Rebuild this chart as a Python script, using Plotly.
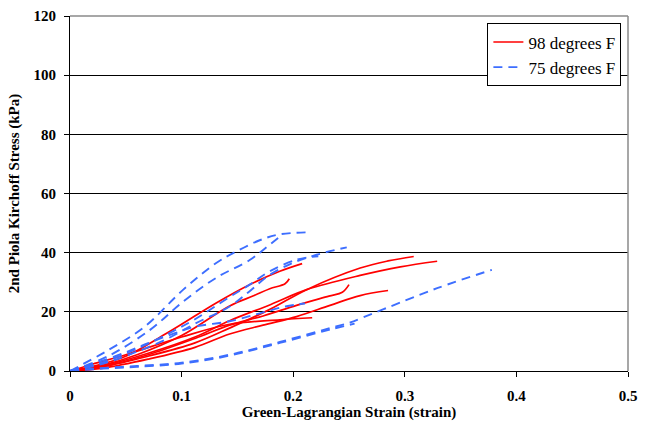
import plotly.graph_objects as go

# ---- data: 98 degrees F (solid red) ----
r_a_x = [0, 0.03, 0.07, 0.112, 0.143, 0.18, 0.212, 0.26, 0.285, 0.308]
r_a_y = [0, 1.5, 5, 9.5, 14.5, 21, 27.5, 34.8, 37.2, 38.7]
r_b_x = [0, 0.03, 0.07, 0.112, 0.143, 0.18, 0.212, 0.26, 0.296, 0.329]
r_b_y = [0, 1.8, 6, 11.5, 17, 22.5, 27.5, 32.3, 35.2, 37.1]
r_c_x = [0, 0.03, 0.07, 0.112, 0.143, 0.173, 0.203, 0.232, 0.244, 0.25]
r_c_y = [0, 1.5, 5.5, 11, 15.5, 18.6, 22.2, 25.3, 26.6, 29.2]
r_d_x = [0, 0.03, 0.07, 0.112, 0.143, 0.173, 0.203, 0.233, 0.26, 0.285]
r_d_y = [0, 1, 4, 8, 12.5, 15.5, 18.4, 22.2, 25.5, 27.2]
r_e_x = [0, 0.02, 0.05, 0.1, 0.143, 0.188, 0.217]
r_e_y = [0, 2.3, 5.5, 11.5, 15.8, 17.3, 18]
r_f_x = [0, 0.02, 0.05, 0.09, 0.131, 0.16, 0.188, 0.208]
r_f_y = [0, 1.5, 5, 13.5, 23, 29, 33.7, 36.3]
r_g_x = [0, 0.03, 0.06, 0.1, 0.143, 0.165, 0.179, 0.1927, 0.1965]
r_g_y = [0, 2, 5.5, 12, 22, 25.5, 27.8, 29.5, 31.2]

# ---- data: 75 degrees F (dashed blue) ----
b_1_x = [0, 0.034, 0.067, 0.1015, 0.131, 0.149, 0.17, 0.188, 0.2166]
b_1_y = [0, 7, 15, 27.5, 36.5, 40.4, 44.2, 46.2, 46.9]
b_2_x = [0, 0.03, 0.052, 0.085, 0.112, 0.143, 0.161, 0.179, 0.2, 0.221, 0.248]
b_2_y = [0, 2.5, 5.4, 10.5, 16, 21.8, 27, 32.5, 36.6, 39.3, 41.8]
b_3_x = [0, 0.021, 0.06, 0.1, 0.143, 0.188, 0.233, 0.25, 0.281, 0.329, 0.378]
b_3_y = [0, 0.8, 1.7, 2.8, 5.5, 9.8, 14.5, 16.3, 20.9, 28, 34.2]
b_4_x = [0, 0.04, 0.07, 0.094, 0.112, 0.143, 0.17, 0.193, 0.2106]
b_4_y = [0, 4.9, 9.4, 12.8, 15, 16.8, 19.5, 21.8, 22.8]
b_5_x = [0, 0.03, 0.06, 0.1, 0.143, 0.188, 0.233, 0.255]
b_5_y = [0, 0.8, 1.4, 2.5, 5.2, 9.5, 14, 16]
b_6_x = [0, 0.034, 0.0717, 0.1015, 0.131, 0.161, 0.175, 0.19]
b_6_y = [0, 5, 13.9, 23.5, 31.5, 37.5, 41.5, 46]
b_7_x = [0, 0.03, 0.06, 0.09, 0.112, 0.143, 0.161, 0.179, 0.203, 0.2225]
b_7_y = [0, 3, 7.5, 13, 17.5, 25, 29.2, 33.7, 37.6, 38.8]

red_series = [(r_a_x, r_a_y), (r_b_x, r_b_y), (r_c_x, r_c_y), (r_d_x, r_d_y),
              (r_e_x, r_e_y), (r_f_x, r_f_y), (r_g_x, r_g_y)]
blue_series = [(b_1_x, b_1_y), (b_2_x, b_2_y), (b_3_x, b_3_y), (b_4_x, b_4_y),
               (b_5_x, b_5_y), (b_6_x, b_6_y), (b_7_x, b_7_y)]

x_ticks = [0, 0.1, 0.2, 0.3, 0.4, 0.5]
x_tick_text = ["0", "0.1", "0.2", "0.3", "0.4", "0.5"]
y_ticks = [0, 20, 40, 60, 80, 100, 120]

RED = "#FF0000"
BLUE = "#3D6EFF"
FONT = "Liberation Serif, Times New Roman, DejaVu Serif, serif"

fig = go.Figure()
for i, (xs, ys) in enumerate(red_series):
    fig.add_trace(go.Scatter(
        x=xs, y=ys, mode="lines", name="98 degrees F",
        line=dict(color=RED, width=1.7, shape="spline", smoothing=1.0),
        legendgroup="r", showlegend=(i == 0)))
for i, (xs, ys) in enumerate(blue_series):
    fig.add_trace(go.Scatter(
        x=xs, y=ys, mode="lines", name="75 degrees F",
        line=dict(color=BLUE, width=1.9, dash="9px,6px", shape="spline", smoothing=1.0),
        legendgroup="b", showlegend=(i == 0)))

fig.update_layout(
    width=651, height=422,
    margin=dict(l=70, r=23, t=16, b=51),
    paper_bgcolor="white", plot_bgcolor="white",
    font=dict(family=FONT, color="black"),
    legend=dict(
        x=0.748, y=0.979, xanchor="left", yanchor="top",
        bgcolor="white", bordercolor="black", borderwidth=1,
        font=dict(family=FONT, size=17, color="black"),
        tracegroupgap=0, itemwidth=30),
    xaxis=dict(
        range=[0, 0.5], tickvals=x_ticks, ticktext=x_tick_text,
        showgrid=False, zeroline=False, automargin=False,
        showline=True, linecolor="black", linewidth=1,
        ticks="outside", ticklen=5, tickcolor="black",
        ticklabelstandoff=6,
        tickfont=dict(family=FONT, size=15, weight="bold"),
        title=dict(text="Green-Lagrangian Strain (strain)", standoff=0,
                   font=dict(family=FONT, size=15, weight="bold"))),
    yaxis=dict(
        range=[0, 120], tickvals=y_ticks,
        showgrid=True, gridcolor="black", gridwidth=1, zeroline=False,
        automargin=False,
        showline=True, linecolor="black", linewidth=1,
        ticks="outside", ticklen=5, tickcolor="black",
        ticklabelstandoff=5,
        tickfont=dict(family=FONT, size=15, weight="bold"),
        title=dict(text="2nd Piola Kirchoff Stress (kPa)", standoff=10,
                   font=dict(family=FONT, size=15, weight="bold"))),
)

# gray plot-area border on top and right
fig.add_shape(type="line", xref="paper", yref="paper", x0=0, x1=1, y0=1, y1=1,
              line=dict(color="#8a8a8a", width=1.5), layer="above")
fig.add_shape(type="line", xref="paper", yref="paper", x0=1, x1=1, y0=0, y1=1,
              line=dict(color="#8a8a8a", width=1.5), layer="above")

fig.write_html("out.html")
